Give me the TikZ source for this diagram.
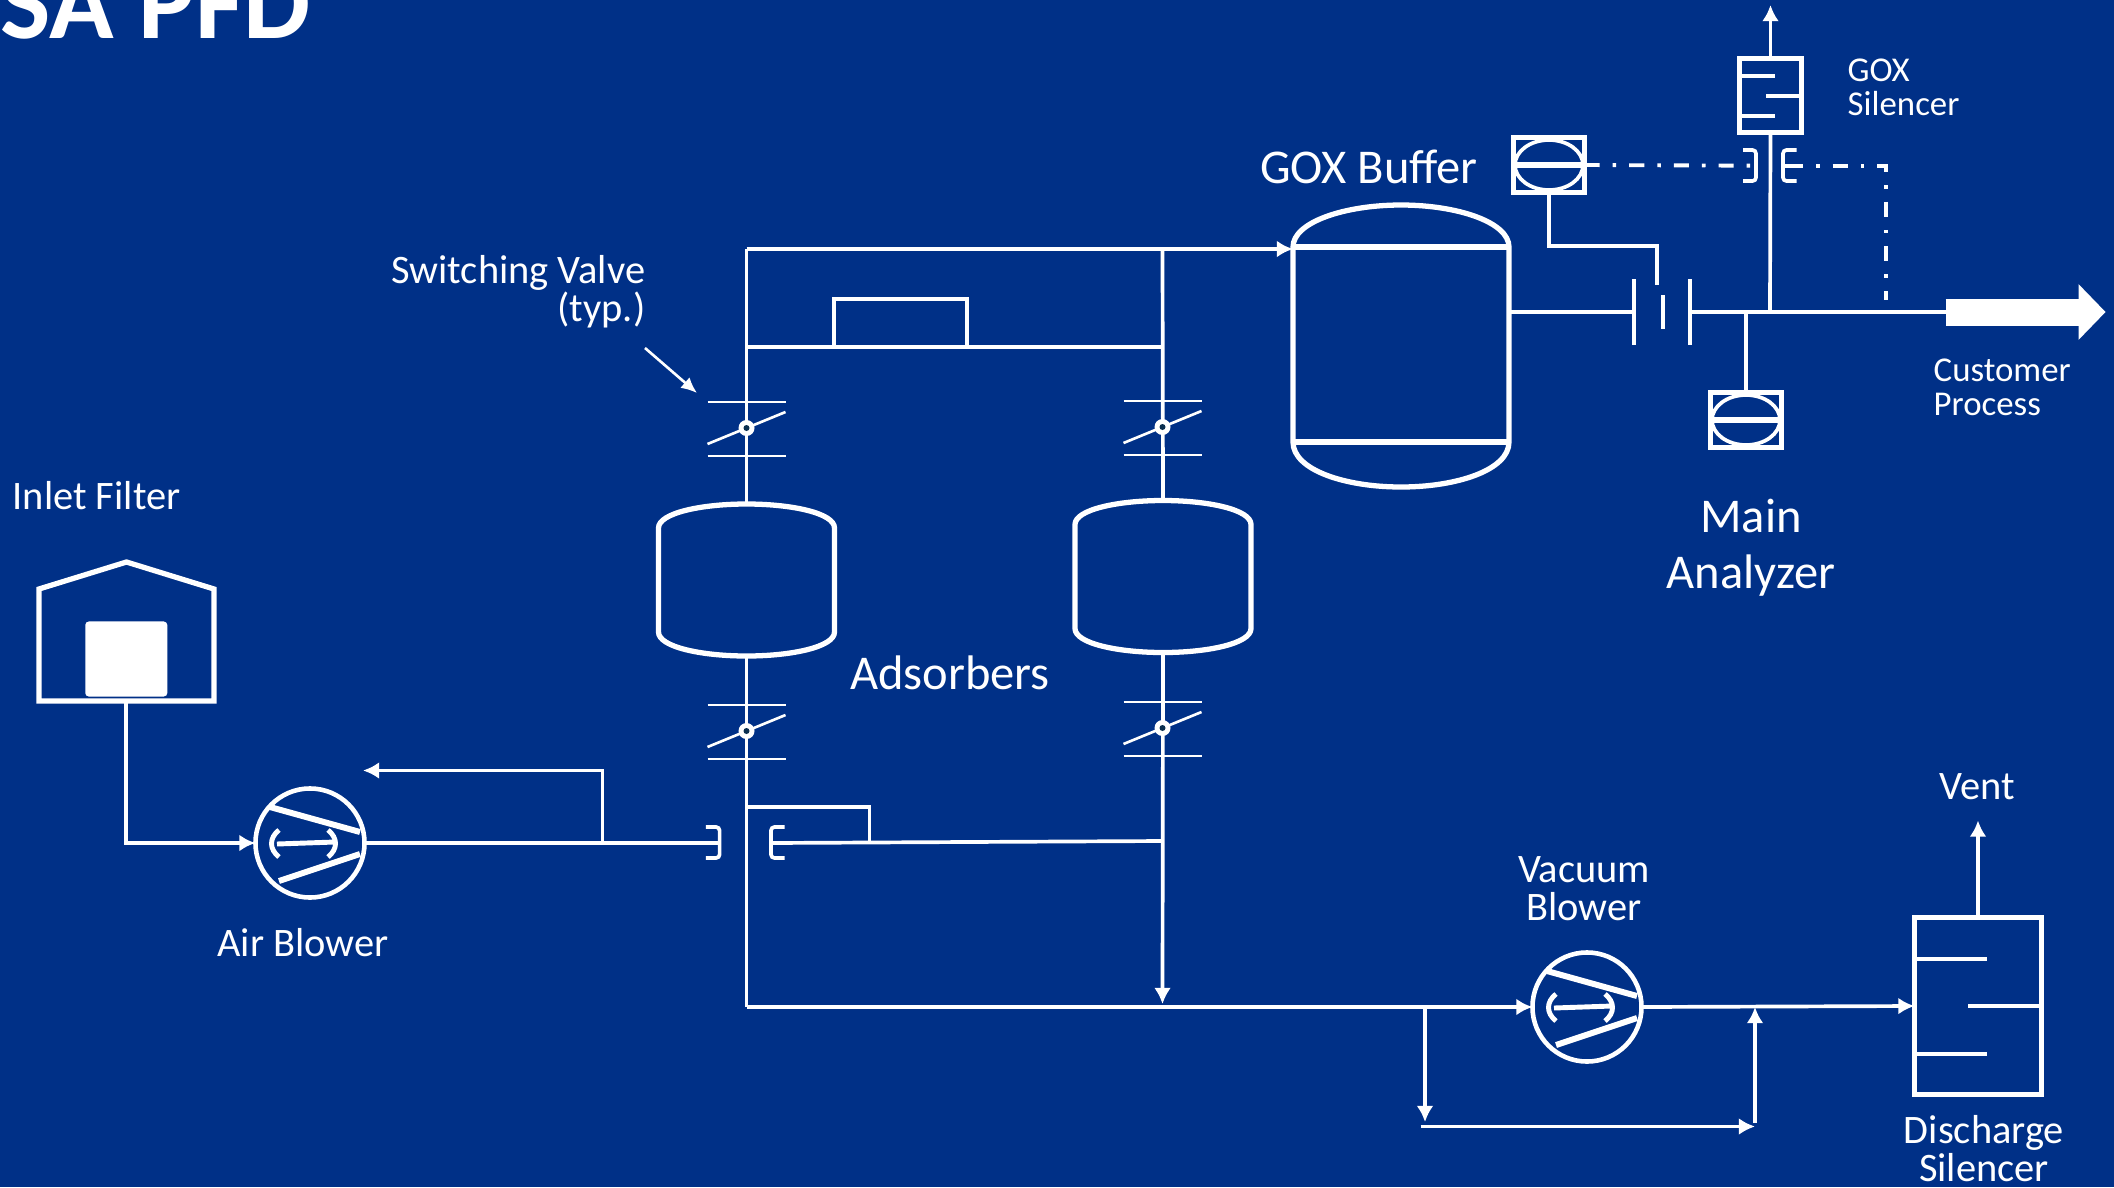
\documentclass[tikz,border=0pt]{standalone}
\usepackage{fontspec}
\setmainfont{Carlito}
\usepackage{xcolor}
\usepackage{tikz}
\usetikzlibrary{arrows.meta, shapes.geometric, calc}
\definecolor{pfdBlue}{HTML}{003087}
\definecolor{pfdDot}{HTML}{0A2F50}

\newcommand{\swvalve}[3]{
  \draw[valveline] (#2-39,#3-26) -- (#2+39,#3-26);
  \draw[valveline] (#2-39,#3+28) -- (#2+39,#3+28);
  \draw[valveline] (#2-39,#3+16) -- (#2+39,#3-16);
  \node[vlvdisc] (#1) at (#2,#3) {};
  \fill[pfdDot] (#1) circle (3);
}
\newcommand{\adsvessel}[3]{
  \coordinate (#1top) at (#2,#3-76);
  \coordinate (#1bot) at (#2,#3+76);
  \draw[vessel] (#2-88,#3-52) .. controls (#2-88,#3-67) and (#2-45,#3-76) .. (#1top)
    .. controls (#2+45,#3-76) and (#2+88,#3-67) .. (#2+88,#3-52)
    -- (#2+88,#3+52) .. controls (#2+88,#3+67) and (#2+45,#3+76) .. (#1bot)
    .. controls (#2-45,#3+76) and (#2-88,#3+67) .. (#2-88,#3+52) -- cycle;
}
\newcommand{\blower}[3]{
  \node[blowerc] (#1) at (#2,#3) {};
  \draw[blowervane] (#2-40,#3-36) -- (#2+50,#3-11);
  \draw[blowervane] (#2-31,#3+38) -- (#2+50,#3+11);
  \draw[blowerarc] (#2-33,#3+1) -- (#2+25,#3-1);
  \draw[blowerarc] (#2-31,#3-13) .. controls (#2-41,#3-5) and (#2-41,#3+6) .. (#2-31,#3+14);
  \draw[blowerarc] (#2+18,#3-13) .. controls (#2+28,#3-5) and (#2+28,#3+6) .. (#2+18,#3+14);
}
\newcommand{\analyzer}[3]{
  \node[anbox] (#1) at (#2,#3) {};
  \draw[pipe] (#2-34,#3) arc[x radius=34, y radius=25, start angle=180, end angle=-180];
  \draw[anbar] (#1.west) -- (#1.east);
}

\begin{document}
\begin{tikzpicture}[
  x=0.01cm, y=-0.01cm,
  font=\fontsize{11.5}{10.8}\selectfont, text=white,
  pipe/.style={draw=white, line width=1.05pt},
  flow/.style={pipe, -{Latex[length=4.6pt,width=4.8pt]}},
  vessel/.style={draw=white, line width=1.5pt},
  valveline/.style={draw=white, line width=0.75pt},
  vlvdisc/.style={circle, fill=white, minimum size=0.16cm, inner sep=0pt, outer sep=0pt},
  blowerc/.style={circle, draw=white, line width=1.3pt, minimum size=1.09cm, inner sep=0pt, outer sep=0pt},
  blowervane/.style={draw=white, line width=1.7pt},
  blowerarc/.style={draw=white, line width=1.4pt},
  anbox/.style={rectangle, draw=white, line width=1.2pt, minimum width=0.71cm, minimum height=0.55cm, inner sep=0pt, outer sep=0pt},
  anbar/.style={draw=white, line width=1.5pt},
  silbox/.style={rectangle, draw=white, line width=1.2pt, inner sep=0pt, outer sep=0pt},
  plate/.style={draw=white, line width=1.4pt},
  sigline/.style={draw=white, line width=1.1pt, dash pattern=on 4.3pt off 3.7pt on 1pt off 3.7pt},
  bigflow/.style={draw=white, line width=0.27cm, -{Triangle[length=0.27cm,width=0.54cm]}},
  biglbl/.style={align=center, font=\fontsize{13.8}{16}\selectfont},
  smalllbl/.style={align=left, font=\fontsize{9.9}{9.6}\selectfont},
]
\useasboundingbox[fill=pfdBlue] (0,0) rectangle (2114,1187);

\node[anchor=base west, inner sep=0pt, font=\bfseries\fontsize{30.3}{30}\selectfont] (title) at (0,38) {SA PFD};

\adsvessel{adsL}{746.5}{580}
\adsvessel{adsR}{1163}{576.5}

\coordinate (gbTop) at (1401,205);
\coordinate (gbBot) at (1401,487);
\draw[vessel] (1293,247) .. controls (1293,222) and (1345,205) .. (gbTop)
  .. controls (1457,205) and (1509,222) .. (1509,247) -- (1509,442)
  .. controls (1509,470) and (1457,487) .. (gbBot)
  .. controls (1345,487) and (1293,470) .. (1293,442) -- cycle;
\draw[vessel] (1293,247) -- (1509,247);
\draw[vessel] (1293,442) -- (1509,442);
\coordinate (gbIn) at (1293,249);
\coordinate (gbOut) at (1509,312);

\coordinate (topL) at (746.5,249);
\coordinate (topR) at (1162.5,249);
\coordinate (eqL) at (746.5,347);
\coordinate (eqR) at (1162.5,347);
\coordinate (botL) at (746.5,1007);
\coordinate (botR) at (1162.5,1007);

\draw[pipe] (topL) -- (adsLtop);
\draw[pipe] (topR) -- (adsRtop);
\draw[pipe] (adsLbot) -- (botL);
\draw[flow] (adsRbot) -- (1162.5,1004);
\draw[flow] (topL) -- (gbIn);
\draw[pipe] (eqL) -- (834,347) -- (834,299) -- (967,299) -- (967,347) -- (eqR);
\draw[pipe] (eqL) -- (eqR);

\swvalve{vlvA}{746.5}{428}
\swvalve{vlvB}{1162.5}{427}
\swvalve{vlvC}{746.5}{731}
\swvalve{vlvD}{1162.5}{728}

\node[rectangle, fill=white, rounded corners=1pt, minimum width=0.82cm, minimum height=0.75cm, inner sep=0pt] (filtCore) at (126.3,659) {};
\draw[vessel] (39,701) -- (39,589) -- (126.5,562) -- (214,589) -- (214,701) -- cycle;
\coordinate (filtOut) at (126.3,701);

\blower{airBlw}{310}{843}
\draw[flow] (filtOut) |- (airBlw.west);

\coordinate (airBr) at (719.6,843);
\coordinate (airSp) at (602.6,843);
\draw[pipe] (airBlw.east) -- (airBr);
\draw[flow] (airSp) |- (363,770.5);
\draw[pipe, rounded corners=1pt] (705.8,827) -- (719.6,827) -- (719.6,858) -- (705.8,858);
\draw[pipe, rounded corners=1pt] (784.7,827) -- (771,827) -- (771,858) -- (784.7,858);
\draw[pipe] (771,843) -- (1162.5,841);
\draw[pipe] (746.5,807) -- (869.6,807) -- (869.6,842);

\blower{vacBlw}{1587}{1007}
\node[silbox, minimum width=1.27cm, minimum height=1.77cm] (dsSil) at (1978,1006) {};
\draw[pipe] (1914,959) -- (1987.4,959);
\draw[pipe] (2042,1006) -- (1968,1006);
\draw[pipe] (1914,1053.7) -- (1987.4,1053.7);
\draw[flow] (botL) -- (vacBlw.west);
\draw[flow] (vacBlw.east) -- (dsSil.west);
\draw[flow] (dsSil.north) -- (1978,820.5);
\coordinate (byA) at (1425,1007);
\coordinate (byB) at (1755,1007);
\draw[flow] (byA) -- (1425,1122);
\draw[flow] (1420.5,1126.5) -- (1755,1126.5);
\draw[flow] (1755,1122.5) -- (byB);

\node[silbox, minimum width=0.62cm, minimum height=0.74cm] (gxSil) at (1770.5,95.5) {};
\draw[pipe] (1738,76) -- (1775,76);
\draw[pipe] (1803,96) -- (1765.5,96);
\draw[pipe] (1738,116) -- (1775,116);
\coordinate (gxTee) at (1770,312);
\draw[flow] (gxSil.north) -- (1770.5,5);
\draw[pipe] (gxTee) -- (gxSil.south);

\draw[pipe] (gbOut) -- (1634,312);
\draw[pipe] (1690,312) -- (1945.5,312);
\draw[plate] (1634,279) -- (1634,345);
\draw[plate] (1690,279) -- (1690,345);
\draw[plate] (1663,295) -- (1663,329);
\draw[bigflow] (1945.5,312) -- (2105.6,312);

\analyzer{anGox}{1549}{165}
\analyzer{anMain}{1746}{420}
\draw[pipe] (anGox.south) |- (1656.7,246) -- (1656.7,285);
\draw[pipe] (1746,312) -- (anMain.north);

\draw[pipe, rounded corners=1pt] (1743,150) -- (1756,150) -- (1756,181) -- (1743,181);
\draw[pipe, rounded corners=1pt] (1796.5,150) -- (1783,150) -- (1783,181) -- (1796.5,181);
\draw[pipe] (1783,165.7) -- (1788,165.7);
\draw[sigline] (anGox.east) -- (1756,165.7);
\draw[sigline] (1788,165.7) -- (1886,165.7) -- (1886,300);

\node[align=right, anchor=east, inner sep=0pt] (lblValve) at (646,292) {Switching Valve\\(typ.)};
\draw[valveline, -{Latex[length=4.5pt,width=4pt]}] (645,348) -- (697,393);

\node[anchor=west, inner sep=0pt] (lblFilter) at (12,496) {Inlet Filter};
\node[inner sep=0pt] (lblAir) at (303,943) {Air Blower};
\node[biglbl, inner sep=0pt] (lblAds) at (950,673) {Adsorbers};
\node[biglbl, inner sep=0pt] (lblGox) at (1369,167) {GOX Buffer};
\node[biglbl, inner sep=0pt] (lblMain) at (1751,548) {Main\\Analyzer};
\node[smalllbl, anchor=west, inner sep=0pt] (lblGxSil) at (1847,87) {GOX\\Silencer};
\node[smalllbl, anchor=west, inner sep=0pt] (lblCust) at (1933,387) {Customer\\Process};
\node[align=center, inner sep=0pt] (lblVac) at (1584,889) {Vacuum\\Blower};
\node[inner sep=0pt] (lblVent) at (1977,787) {Vent};
\node[align=center, inner sep=0pt] (lblDs) at (1984,1149) {Discharge\\Silencer};
\end{tikzpicture}
\end{document}
